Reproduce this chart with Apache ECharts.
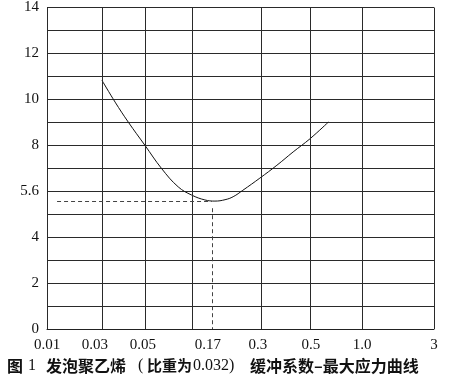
<!DOCTYPE html>
<html><head><meta charset="utf-8">
<script src="https://cdn.jsdelivr.net/npm/echarts@6/dist/echarts.min.js"></script>
<style>html,body{margin:0;padding:0;background:#fff}#c{width:452px;height:389px}</style>
</head><body><div id="c"></div>
<script>
// x axis is a nomogram scale: positions in axis units (0..100)
const gridXPos = [0, 14.2, 25.3, 37.5, 55.3, 68.0, 81.4, 100];
const xTickPos = [0, 12.4, 24.8, 41.6, 54.5, 68.2, 81.4, 100];
const xTickLabels = ['0.01', '0.03', '0.05', '0.17', '0.3', '0.5', '1.0', '3'];
const yTickLabels = {0: '0', 2: '2', 4: '4', 6: '5.6', 8: '8', 10: '10', 12: '12', 14: '14'};
const curveX = [14.2, 17.6, 21.0, 25.3, 29.6, 33.9, 37.4, 40.8, 43.4, 46.0, 48.1, 50.6, 55.0, 59.4, 63.6, 68.0, 72.7];
const curveY = [10.83, 9.88, 9.01, 8.0, 6.99, 6.19, 5.83, 5.62, 5.57, 5.63, 5.76, 6.04, 6.57, 7.13, 7.71, 8.29, 9.01];
const minX = 42.6, minY = 5.58;
const captionParts = ['图', '1', '发泡聚乙烯', '(', '比重为', '0.032)', '缓冲系数–最大应力曲线'];
const captionSerif = [false, true, false, true, false, true, false];
const captionSize = [16, 16, 16, 16, 15, 16, 16];
const captionLeft = [7, 28, 46, 138, 147, 193, 250];

const labelMap = {};
xTickPos.forEach((p, i) => labelMap[p] = xTickLabels[i]);

const chart = echarts.init(document.getElementById('c'));
chart.setOption({
  animation: false,
  graphic: captionParts.map((t, i) => ({
    type: 'text', left: captionLeft[i], top: 358, silent: true,
    style: {
      text: t, fill: '#111',
      font: captionSerif[i] ? captionSize[i] + 'px "Liberation Serif"' : 'bold ' + captionSize[i] + 'px "Noto Sans CJK SC"'
    }
  })),
  grid: {left: 47, right: 18, top: 7, bottom: 60},
  xAxis: {
    type: 'value', min: 0, max: 100,
    axisLine: {show: true, lineStyle: {color: '#222', width: 1}},
    axisTick: {show: false},
    splitLine: {show: false},
    axisLabel: {
      customValues: xTickPos,
      formatter: v => labelMap[v] !== undefined ? labelMap[v] : '',
      fontFamily: 'Liberation Serif', fontSize: 15, color: '#111', margin: 9
    }
  },
  yAxis: {
    type: 'value', min: 0, max: 14, interval: 1,
    axisLine: {show: true, lineStyle: {color: '#222', width: 1}},
    axisTick: {show: false},
    splitLine: {show: true, lineStyle: {color: '#2a2a2a', width: 1}},
    axisLabel: {
      formatter: v => yTickLabels[v] !== undefined ? yTickLabels[v] : '',
      fontFamily: 'Liberation Serif', fontSize: 15, color: '#111', margin: 8
    }
  },
  series: [
    {
      type: 'line', data: [], silent: true,
      markLine: {
        silent: true, symbol: ['none', 'none'], label: {show: false},
        lineStyle: {color: '#2a2a2a', width: 1, type: 'solid'},
        data: gridXPos.map(v => ({xAxis: v}))
      }
    },
    {
      type: 'line', smooth: 0.4, symbol: 'none', silent: true,
      lineStyle: {color: '#111', width: 1},
      data: curveX.map((x, i) => [x, curveY[i]]),
      markLine: {
        silent: true, symbol: ['none', 'none'], label: {show: false},
        lineStyle: {color: '#444', width: 1, type: [4, 3]},
        data: [
          [{coord: [2.6, minY]}, {coord: [minX, minY]}],
          [{coord: [minX, 5.26]}, {coord: [minX, 0]}]
        ]
      }
    }
  ]
});
</script></body></html>
